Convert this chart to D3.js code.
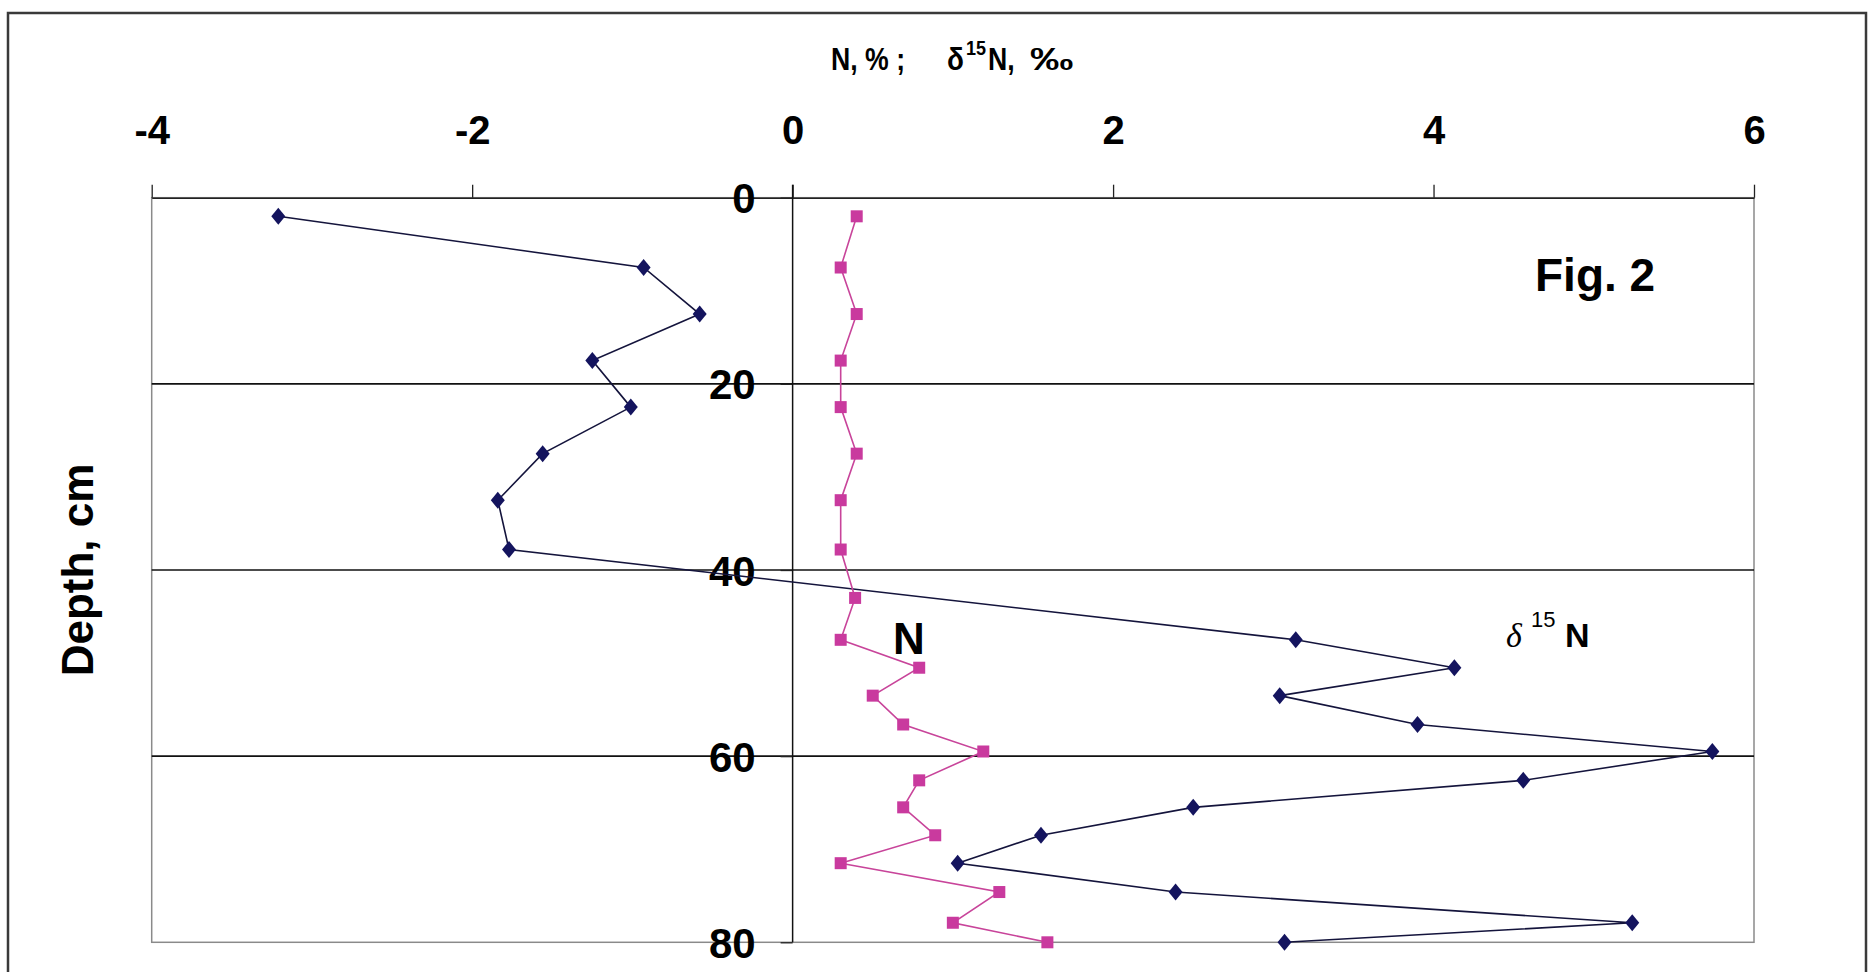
<!DOCTYPE html>
<html>
<head>
<meta charset="utf-8">
<script src="https://cdn.jsdelivr.net/npm/d3@7"></script>
<style>
  html, body { margin: 0; padding: 0; background: #fff; }
  svg { display: block; }
  text { font-family: "Liberation Sans", Arial, sans-serif; font-weight: bold; fill: #000; }
</style>
</head>
<body>
<svg id="chart" width="1869" height="972"></svg>
<script>
// ---- data ----
const depths = [2, 7.5, 12.5, 17.5, 22.5, 27.5, 32.5, 37.8, 43, 47.5, 50.5, 53.5, 56.6, 59.5, 62.6, 65.5, 68.5, 71.5, 74.6, 77.9, 80];
const nPercent = [0.40, 0.30, 0.40, 0.30, 0.30, 0.40, 0.30, 0.30, 0.39, 0.30, 0.79, 0.50, 0.69, 1.19, 0.79, 0.69, 0.89, 0.30, 1.29, 1.00, 1.59];
const delta15N = [-3.21, -0.93, -0.58, -1.25, -1.01, -1.56, -1.84, -1.77, null, 3.14, 4.13, 3.04, 3.90, 5.74, 4.56, 2.50, 1.55, 1.03, 2.39, 5.24, 3.07];
const xTicks = [-4, -2, 0, 2, 4, 6];
const yTicks = [0, 20, 40, 60, 80];
const gridDepths = [20, 40, 60];

const svg = d3.select("#chart");

// outer frame
svg.append("rect").attr("x", 8).attr("y", 13).attr("width", 1858).attr("height", 990)
  .attr("fill", "none").attr("stroke", "#3a3a3a").attr("stroke-width", 2.5);

const x = d3.scaleLinear().domain([-4, 6]).range([151.7, 1754]);
const y = d3.scaleLinear().domain([0, 80]).range([197.7, 942.3]);

// plot area border (gray)
svg.append("rect").attr("x", x(-4)).attr("y", y(0)).attr("width", x(6) - x(-4)).attr("height", y(80) - y(0))
  .attr("fill", "none").attr("stroke", "#8a8a8a").attr("stroke-width", 1.5);

// gridlines
svg.append("g").selectAll("line").data(gridDepths).join("line")
  .attr("x1", x(-4)).attr("x2", x(6)).attr("y1", d => y(d)).attr("y2", d => y(d))
  .attr("stroke", "#111").attr("stroke-width", 1.6);

// top axis
const gx = svg.append("g").attr("transform", `translate(0,${y(0)})`)
  .call(d3.axisTop(x).tickValues(xTicks).tickSize(13).tickSizeOuter(0).tickPadding(41).tickFormat(d3.format("d")));
gx.select(".domain").attr("stroke", "#222").attr("stroke-width", 1.6);
gx.selectAll(".tick line").attr("stroke", "#222").attr("stroke-width", 1.3);
gx.selectAll(".tick text").attr("font-size", 40).attr("font-weight", "bold").attr("fill", "#000")
  .attr("font-family", "'Liberation Sans', Arial, sans-serif").text(d => d < 0 ? "-" + Math.abs(d) : d);

// vertical axis at x = 0
const gy = svg.append("g").attr("transform", `translate(${x(0)},0)`)
  .call(d3.axisLeft(y).tickValues(yTicks).tickSize(12).tickSizeOuter(0).tickPadding(25).tickFormat(d3.format("d")));
gy.select(".domain").remove();
gy.selectAll(".tick line").attr("stroke", "#222").attr("stroke-width", 1.3);
gy.selectAll(".tick text").attr("font-size", 42).attr("font-weight", "bold").attr("fill", "#000")
  .attr("font-family", "'Liberation Sans', Arial, sans-serif").attr("dy", "0.36em");
svg.append("line").attr("x1", x(0)).attr("x2", x(0)).attr("y1", y(0) - 13).attr("y2", y(80))
  .attr("stroke", "#111").attr("stroke-width", 1.5);

// series
const deltaPts = depths.map((d, i) => ({d, v: delta15N[i]})).filter(p => p.v !== null);
const nPts = depths.map((d, i) => ({d, v: nPercent[i]}));
const line = d3.line().x(p => x(p.v)).y(p => y(p.d));

svg.append("path").datum(deltaPts).attr("d", line)
  .attr("fill", "none").attr("stroke", "#14143c").attr("stroke-width", 1.6);
svg.append("g").selectAll("path").data(deltaPts).join("path")
  .attr("d", p => { const cx = x(p.v), cy = y(p.d); return `M${cx},${cy-8.5}L${cx+7},${cy}L${cx},${cy+8.5}L${cx-7},${cy}Z`; })
  .attr("fill", "#14145e");

svg.append("path").datum(nPts).attr("d", line)
  .attr("fill", "none").attr("stroke", "#c8449a").attr("stroke-width", 1.6);
svg.append("g").selectAll("rect").data(nPts).join("rect")
  .attr("x", p => x(p.v) - 6).attr("y", p => y(p.d) - 6).attr("width", 12).attr("height", 12)
  .attr("fill", "#c93a9e");

// axis titles (condensed bold, as in the original)
const titleParts = [
  {t: "N, % ;", x: 831, y: 70, fs: 31, sx: 0.86},
  {t: "\u03B4", x: 947, y: 70, fs: 31, sx: 0.9},
  {t: "15", x: 966, y: 55, fs: 20, sx: 0.9},
  {t: "N,", x: 988, y: 70, fs: 31, sx: 0.86},
  {t: "\u2030", x: 1030, y: 70, fs: 31, sx: 1.4}
];
svg.append("g").selectAll("text").data(titleParts).join("text")
  .attr("transform", d => `translate(${d.x},${d.y}) scale(${d.sx},1)`)
  .attr("font-size", d => d.fs).text(d => d.t);

svg.append("text").attr("transform", "translate(93,570) rotate(-90)")
  .attr("text-anchor", "middle").attr("font-size", 44).text("Depth, cm");

// annotations
svg.append("text").attr("x", 1535).attr("y", 291).attr("font-size", 46).text("Fig. 2");
svg.append("text").attr("x", 893).attr("y", 654).attr("font-size", 44).text("N");
const dl = svg.append("text").attr("y", 647).attr("font-size", 34);
dl.append("tspan").attr("x", 1506).attr("font-style", "italic").attr("font-weight", "normal")
  .attr("font-family", "'Liberation Serif', 'DejaVu Serif', serif").text("\u03B4");
dl.append("tspan").attr("x", 1531).attr("dy", -20).attr("font-size", 22).attr("font-weight", "normal").text("15");
dl.append("tspan").attr("x", 1565).attr("dy", 20).text("N");
</script>
</body>
</html>
